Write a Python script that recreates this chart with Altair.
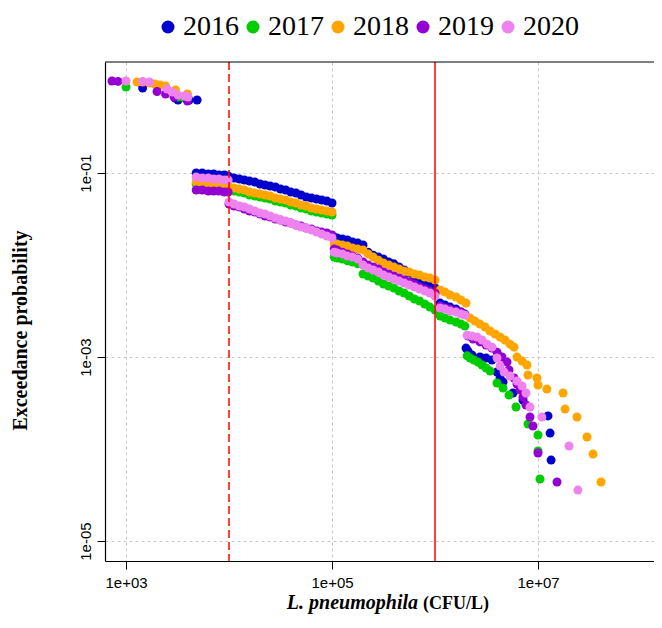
import altair as alt
import pandas as pd

years = ["2016", "2017", "2018", "2019", "2020"]
colors = ["#0000CD", "#00CD00", "#FFA500", "#9400D3", "#EE82EE"]

# concentrations (CFU/L) shared by the dense parts of every curve
cfu_seg_a = [4800, 5500, 6300, 7100, 8000, 9000, 9800]
cfu_seg_b = [10000, 11200, 12600, 14100, 15800, 17800, 20000, 22400, 25100, 28200,
             31600, 35500, 39800, 44700, 50100, 56200, 63100, 70800, 79400, 89100, 100000]
cfu_seg_c = [105000, 112000, 126000, 141000, 158000, 178000, 200000, 224000, 251000,
             282000, 316000, 355000, 398000, 447000, 501000, 562000, 631000, 708000,
             794000, 891000, 1000000]

# ---- 2016 ----
cfu_low_2016 = [1450, 3000, 3200, 4100, 4900]
p_low_2016 = [0.84, 0.654, 0.621, 0.621, 0.621]
p_a_2016 = [0.100, 0.100, 0.0975, 0.0975, 0.0951, 0.0951, 0.0928]
p_b_2016 = [0.0905, 0.0882, 0.0861, 0.0839, 0.0818, 0.0798, 0.0759, 0.0741, 0.0722, 0.0704,
            0.0670, 0.0653, 0.0622, 0.0606, 0.0577, 0.0548, 0.0535, 0.0522, 0.0509, 0.0496, 0.0472]
p_c_2016 = [0.0201, 0.0197, 0.0192, 0.0187, 0.0178, 0.0173, 0.0165, 0.0138, 0.0128, 0.0122,
            0.0116, 0.0108, 0.0103, 0.00951, 0.00882, 0.00818, 0.00759, 0.00704, 0.00653,
            0.00606, 0.00562]
cfu_high_2016 = [1120000, 1250000, 1400000, 1600000, 1790000, 1950000, 2000000, 2090000,
                 2290000, 2730000, 3130000, 3570000, 4000000, 4280000, 4570000, 5720000,
                 7150000, 12500000, 13100000, 13400000]
p_high_2016 = [0.00386, 0.00367, 0.00349, 0.00332, 0.00308, 0.00293, 0.00125, 0.00116,
               0.00105, 0.00100, 0.000975, 0.000927, 0.000687, 0.000591, 0.000535, 0.000406,
               0.000341, 0.000229, 0.000149, 0.0000759]

# ---- 2017 ----
cfu_low_2017 = [1000, 3200, 3700]
p_low_2017 = [0.86, 0.67, 0.654]
p_a_2017 = [0.0759, 0.0759, 0.0741, 0.0741, 0.0722, 0.0722, 0.0704]
p_b_2017 = [0.0653, 0.0637, 0.0622, 0.0606, 0.0577, 0.0562, 0.0548, 0.0535, 0.0522, 0.0496,
            0.0484, 0.0472, 0.0449, 0.0438, 0.0416, 0.0406, 0.0386, 0.0377, 0.0367, 0.0358, 0.0349]
p_c_2017 = [0.0122, 0.0119, 0.0116, 0.0111, 0.0108, 0.0103, 0.00798, 0.00759, 0.00722,
            0.00670, 0.00622, 0.00591, 0.00562, 0.00522, 0.00496, 0.00460, 0.00427, 0.00406,
            0.00377, 0.00349, 0.00324]
cfu_high_2017 = [1120000, 1250000, 1400000, 1600000, 1790000, 1950000, 2050000, 2190000,
                 2390000, 2610000, 2860000, 3130000, 3420000, 4000000, 4570000, 5230000,
                 6110000, 8000000, 10000000, 10000000, 10450000]
p_high_2017 = [0.00279, 0.00265, 0.00252, 0.00240, 0.00228, 0.00217, 0.00103, 0.000975,
               0.000927, 0.000882, 0.000819, 0.000759, 0.000704, 0.000522, 0.000460, 0.000386,
               0.000286, 0.000187, 0.000142, 0.0000951, 0.0000472]

# ---- 2018 ----
cfu_low_2018 = [1280, 1450, 1690, 1910, 2140, 2420, 3020, 3950]
p_low_2018 = [0.976, 0.976, 0.951, 0.927, 0.905, 0.882, 0.798, 0.722]
p_a_2018 = [0.0798, 0.0798, 0.0778, 0.0778, 0.0759, 0.0759, 0.0741]
p_b_2018 = [0.0704, 0.0687, 0.0670, 0.0653, 0.0622, 0.0606, 0.0591, 0.0577, 0.0562, 0.0535,
            0.0522, 0.0509, 0.0484, 0.0472, 0.0449, 0.0438, 0.0416, 0.0406, 0.0396, 0.0386, 0.0377]
p_c_2018 = [0.0169, 0.0169, 0.0165, 0.0161, 0.0153, 0.0149, 0.0146, 0.0132, 0.0122, 0.0113,
            0.0105, 0.0100, 0.00951, 0.00905, 0.00861, 0.00839, 0.00798, 0.00778, 0.00741,
            0.00722, 0.00687]
cfu_high_2018 = [1120000, 1250000, 1400000, 1600000, 1790000, 2000000, 2190000, 2440000,
                 2730000, 3060000, 3420000, 3830000, 4280000, 4780000, 5350000, 5850000,
                 6250000, 7000000, 7820000, 8000000, 9770000, 10000000, 12200000, 17500000,
                 18300000, 23900000, 29900000, 34200000, 40900000]
p_high_2018 = [0.00535, 0.00509, 0.00472, 0.00449, 0.00416, 0.00386, 0.00265, 0.00246,
               0.00228, 0.00212, 0.00192, 0.00178, 0.00165, 0.00153, 0.00138, 0.00128,
               0.00100, 0.000905, 0.000819, 0.000637, 0.000591, 0.000496, 0.000449, 0.000406,
               0.000272, 0.000223, 0.000135, 0.0000882, 0.0000438]

# ---- 2019 ----
cfu_low_2019 = [731, 836, 2000, 2420, 2930, 3950]
p_low_2019 = [1.0, 0.99, 0.77, 0.722, 0.670, 0.606]
p_a_2019 = [0.0653, 0.0653, 0.0637, 0.0637, 0.0637, 0.0622, 0.0622]
p_b_2019 = [0.0460, 0.0438, 0.0427, 0.0406, 0.0386, 0.0377, 0.0358, 0.0341, 0.0332, 0.0316,
            0.0308, 0.0293, 0.0286, 0.0272, 0.0265, 0.0252, 0.0246, 0.0234, 0.0228, 0.0223, 0.0212]
p_c_2019 = [0.0149, 0.0146, 0.0138, 0.0132, 0.0125, 0.0119, 0.0108, 0.0100, 0.00951, 0.00905,
            0.00839, 0.00798, 0.00759, 0.00722, 0.00687, 0.00653, 0.00622, 0.00577, 0.00548,
            0.00522, 0.00496]
cfu_high_2019 = [1120000, 1250000, 1400000, 1600000, 1790000, 2090000, 2340000, 2730000,
                 3130000, 3570000, 4000000, 4470000, 5000000, 5230000, 5850000, 6250000,
                 6690000, 7150000, 7640000, 8360000, 8940000, 10000000, 15300000]
p_high_2019 = [0.00358, 0.00341, 0.00332, 0.00316, 0.00308, 0.00169, 0.00157, 0.00146,
               0.00135, 0.00125, 0.00113, 0.00100, 0.000882, 0.000722, 0.000591, 0.000509,
               0.000438, 0.000367, 0.000301, 0.000223, 0.000178, 0.0000905, 0.0000438]

# ---- 2020 ----
cfu_low_2020 = [1000, 1450, 1690, 2500, 2800, 3200, 3700, 4000]
p_low_2020 = [1.0, 0.99, 0.976, 0.819, 0.759, 0.705, 0.687, 0.670]
p_a_2020 = [0.0905, 0.0882, 0.0882, 0.0861, 0.0861, 0.0839, 0.0839]
p_b_2020 = [0.0484, 0.0460, 0.0438, 0.0427, 0.0406, 0.0386, 0.0367, 0.0358, 0.0341, 0.0324,
            0.0308, 0.0301, 0.0286, 0.0272, 0.0259, 0.0252, 0.0240, 0.0228, 0.0217, 0.0207, 0.0197]
p_c_2020 = [0.0138, 0.0135, 0.0132, 0.0125, 0.0122, 0.0116, 0.0100, 0.00927, 0.00882, 0.00839,
            0.00778, 0.00741, 0.00704, 0.00670, 0.00637, 0.00606, 0.00577, 0.00548, 0.00522,
            0.00496, 0.00460]
cfu_high_2020 = [1120000, 1250000, 1400000, 1600000, 1790000, 1950000, 2050000, 2290000,
                 2560000, 2860000, 3200000, 3570000, 4000000, 4280000, 4680000, 5350000,
                 6250000, 7000000, 7640000, 8360000, 10900000, 20000000, 24400000]
p_high_2020 = [0.00341, 0.00332, 0.00316, 0.00308, 0.00293, 0.00286, 0.00173, 0.00169,
               0.00165, 0.00153, 0.00138, 0.00128, 0.000975, 0.000798, 0.000687, 0.000622,
               0.000548, 0.000484, 0.000406, 0.000286, 0.000223, 0.000108, 0.0000358]

thresholds_dashed = [10000]
thresholds_solid = [1000000]

series = {
    "2016": (cfu_low_2016, p_low_2016, p_a_2016, p_b_2016, p_c_2016, cfu_high_2016, p_high_2016),
    "2017": (cfu_low_2017, p_low_2017, p_a_2017, p_b_2017, p_c_2017, cfu_high_2017, p_high_2017),
    "2018": (cfu_low_2018, p_low_2018, p_a_2018, p_b_2018, p_c_2018, cfu_high_2018, p_high_2018),
    "2019": (cfu_low_2019, p_low_2019, p_a_2019, p_b_2019, p_c_2019, cfu_high_2019, p_high_2019),
    "2020": (cfu_low_2020, p_low_2020, p_a_2020, p_b_2020, p_c_2020, cfu_high_2020, p_high_2020),
}

rows = []
for yr in years:
    cl, pl, pa, pb, pc, ch, ph = series[yr]
    xs = cl + cfu_seg_a + cfu_seg_b + cfu_seg_c + ch
    ps = pl + pa + pb + pc + ph
    for xv, pv in zip(xs, ps):
        rows.append({"year": yr, "cfu": xv, "p": pv})
df = pd.DataFrame(rows)

W, H = 549, 499

xscale = alt.Scale(type="log", domain=[625, 1.337e8], nice=False)
yscale = alt.Scale(type="log", domain=[6.07e-6, 1.609], nice=False)

points = alt.Chart(df).mark_circle(size=81, opacity=1).encode(
    x=alt.X("cfu:Q", scale=xscale,
            axis=alt.Axis(values=[1e3, 1e5, 1e7], title=None,
                          labelExpr="'1e+0' + format(log(datum.value)/LN10, '.0f')",
                          grid=True, gridDash=[3, 3], gridColor="#c8c8c8", gridWidth=1,
                          domainColor="black", domainWidth=1.2, tickColor="black",
                          tickSize=8, tickWidth=1, labelFont="Liberation Sans",
                          labelFontSize=15, labelColor="black", labelPadding=6,
                          labelFlush=False)),
    y=alt.Y("p:Q", scale=yscale,
            axis=alt.Axis(values=[1e-1, 1e-3, 1e-5], title="Exceedance probability",
                          labelExpr="'1e-0' + format(-log(datum.value)/LN10, '.0f')",
                          grid=True, gridDash=[3, 3], gridColor="#c8c8c8", gridWidth=1,
                          domainColor="black", domainWidth=1.2, tickColor="black",
                          tickSize=8, tickWidth=1, labelFont="Liberation Sans",
                          labelFontSize=15, labelColor="black", labelPadding=4,
                          labelAngle=270, labelAlign="center", labelBaseline="bottom",
                          labelFlush=False,
                          titleFont="Liberation Serif", titleFontWeight="bold",
                          titleFontSize=20, titleColor="black", titleAngle=270,
                          titleAlign="center", titleBaseline="bottom",
                          titleX=-75, titleY=268)),
    color=alt.Color("year:N", scale=alt.Scale(domain=years, range=colors),
                    legend=alt.Legend(orient="none", legendX=49, legendY=-49,
                                      direction="horizontal", columns=5, title=None,
                                      symbolType="circle", symbolSize=169,
                                      symbolStrokeWidth=0, symbolOpacity=1,
                                      labelFont="Liberation Serif", labelFontSize=28,
                                      labelColor="black", labelOffset=1,
                                      columnPadding=0, padding=0)),
)

dashed = alt.Chart(pd.DataFrame({"t": thresholds_dashed})).mark_rule(
    color="#FF0000", strokeWidth=1.5, strokeDash=[8, 4]).encode(x=alt.X("t:Q", scale=xscale))
solid = alt.Chart(pd.DataFrame({"t": thresholds_solid})).mark_rule(
    color="#FF0000", strokeWidth=1.5).encode(x=alt.X("t:Q", scale=xscale))

border = alt.Chart(pd.DataFrame({"a": [0]})).mark_rule(color="black", strokeWidth=1.2).encode(
    x=alt.value(0), x2=alt.value(W), y=alt.value(0))

title_it = alt.Chart(pd.DataFrame({"t": ["L. pneumophila"]})).mark_text(
    font="Liberation Serif", fontSize=20, fontWeight="bold", fontStyle="italic",
    align="right", baseline="alphabetic", color="black").encode(
    text="t:N", x=alt.value(313), y=alt.value(547))
title_rest = alt.Chart(pd.DataFrame({"t": ["(CFU/L)"]})).mark_text(
    font="Liberation Serif", fontSize=18, fontWeight="bold",
    align="left", baseline="alphabetic", color="black").encode(
    text="t:N", x=alt.value(318), y=alt.value(547))

chart = alt.layer(points, dashed, solid, border, title_it, title_rest).properties(
    width=W, height=H,
    autosize=alt.AutoSizeParams(type="none"),
    padding={"left": 97, "top": 54, "right": 0, "bottom": 59},
).configure_view(stroke=None)

chart.save("out.html", embed_options={"renderer": "svg", "actions": False})
